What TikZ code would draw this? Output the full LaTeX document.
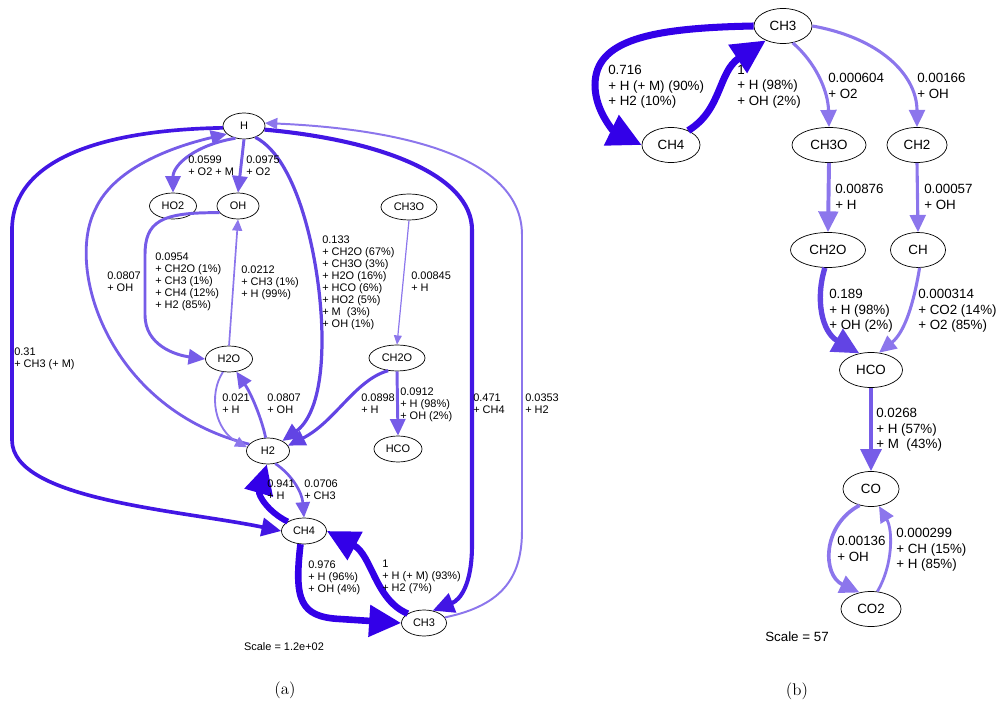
\documentclass[tikz,border=0pt]{standalone}
\usepackage{fontspec}
\newfontfamily\gvfont{Liberation Sans}
\usetikzlibrary{arrows.meta,shapes.geometric}

\definecolor{fluxA}{RGB}{51,0,232}
\definecolor{fluxB}{RGB}{66,22,228}
\definecolor{fluxC}{RGB}{98,68,228}
\definecolor{fluxD}{RGB}{118,92,232}
\definecolor{fluxE}{RGB}{140,118,236}

\begin{document}
\begin{tikzpicture}[x=0.025cm,y=-0.025cm,
        >={Triangle[length=3pt 4.2,width=2pt 4.2]},
        spa/.style={draw,ellipse,line width=0.5pt,inner sep=0pt,
              minimum height=0.65cm,font=\gvfont\fontsize{7.8}{9}\selectfont},
        spb/.style={draw,ellipse,line width=0.5pt,inner sep=0pt,
              minimum height=0.875cm,font=\gvfont\fontsize{9.5}{11}\selectfont},
        lba/.style={anchor=north west,inner sep=0pt,align=left,
              font=\gvfont\fontsize{7.8}{8.5}\selectfont},
        lbb/.style={anchor=north west,inner sep=0pt,align=left,
              font=\gvfont\fontsize{9.5}{11}\selectfont},
        flux/.style 2 args={->,draw=#1,line width=#2}]
        \useasboundingbox (0,0) rectangle (1004,707);

        \node[spa,minimum width=1.05cm] (aH) at (244,126) {H};
        \node[spa,minimum width=1.175cm] (aHO2) at (173,206) {HO2};
        \node[spa,minimum width=1.05cm] (aOH) at (238,206) {OH};
        \node[spa,minimum width=1.4cm] (aCH3O) at (409,207) {CH3O};
        \node[spa,minimum width=1.175cm] (aH2O) at (229,359) {H2O};
        \node[spa,minimum width=1.4cm] (aCH2O) at (397,358) {CH2O};
        \node[spa,minimum width=1.075cm] (aH2) at (268,451) {H2};
        \node[spa,minimum width=1.2cm] (aHCO) at (398,449) {HCO};
        \node[spa,minimum width=1.125cm] (aCH4) at (304,531) {CH4};
        \node[spa,minimum width=1.125cm] (aCH3) at (424,623) {CH3};

        \draw[flux={fluxD}{2.1pt}] (aH.235) .. controls (195,145) and (173,165)
              .. (aHO2.north);
        \draw[flux={fluxD}{2.1pt}] (aH.south) -- (aOH.north);
        \draw[flux={fluxE}{1.2pt}] (aH2O.north) -- (aOH.south);
        \draw[flux={fluxD}{2.1pt}] (aOH.200) .. controls (160,212) and (145,222)
              .. (145,255) -- (145,315) .. controls (145,345) and (175,355)
              .. (aH2O.west);
        \draw[flux={fluxD}{2pt}] (aH2.160) .. controls (110,410) and (65,270)
              .. (95,210) .. controls (115,165) and (180,145) .. (aH.205);
        \draw[flux={fluxB}{2.6pt}] (aH.185) .. controls (100,130) and (12,160)
              .. (12,230) -- (12,440) .. controls (12,500) and (180,510)
              .. (aCH4.west);
        \draw[flux={fluxC}{2.3pt}] (aH.315) .. controls (300,160) and (322,270)
              .. (322,340) .. controls (322,405) and (305,425) .. (aH2.35);
        \draw[flux={fluxB}{2.9pt}] (aH.350) .. controls (380,140) and (472,175)
              .. (472,230) -- (472,545) .. controls (472,585) and (460,600)
              .. (aCH3.55);
        \draw[flux={fluxE}{1.4pt}] (aCH3.15) .. controls (505,605) and (522,575)
              .. (522,530) -- (522,235) .. controls (522,150) and (380,128)
              .. (aH.8);
        \draw[flux={fluxE}{0.85pt}] (aCH3O.south) -- (aCH2O.north);
        \draw[flux={fluxC}{2.2pt}] (aCH2O.235) .. controls (355,380) and (335,422)
              .. (aH2.15);
        \draw[flux={fluxD}{2.1pt}] (aCH2O.south) -- (aHCO.north);
        \draw[flux={fluxD}{2pt}] (aH2.100) .. controls (262,420) and (252,395)
              .. (aH2O.300);
        \draw[flux={fluxE}{1.3pt}] (aH2O.245) .. controls (208,395) and (215,430)
              .. (aH2.170);
        \draw[flux={fluxA}{4.3pt}] (aCH4.150) .. controls (268,512) and (258,495)
              .. (aH2.265);
        \draw[flux={fluxD}{1.9pt}] (aH2.300) .. controls (292,475) and (302,492)
              .. (aCH4.north);
        \draw[flux={fluxA}{4.7pt}] (aCH4.255) .. controls (294,600) and (300,617)
              .. (340,619) -- (aCH3.west);
        \draw[flux={fluxA}{4.7pt}] (aCH3.150) .. controls (375,600) and (372,555)
              .. (aCH4.east);

        \node[lba] (la1) at (188,156) {0.0599\\+ O2 + M};
        \node[lba] (la2) at (246,156) {0.0975\\+ O2};
        \node[lba] (la3) at (107,272) {0.0807\\+ OH};
        \node[lba] (la4) at (155,253) {0.0954\\+ CH2O (1\%)\\+ CH3 (1\%)\\
              + CH4 (12\%)\\+ H2 (85\%)};
        \node[lba] (la5) at (241,266) {0.0212\\+ CH3 (1\%)\\+ H (99\%)};
        \node[lba] (la6) at (322,236) {0.133\\+ CH2O (67\%)\\+ CH3O (3\%)\\
              + H2O (16\%)\\+ HCO (6\%)\\+ HO2 (5\%)\\+ M\ \ (3\%)\\+ OH (1\%)};
        \node[lba] (la7) at (411,272) {0.00845\\+ H};
        \node[lba] (la8) at (14,348) {0.31\\+ CH3 (+ M)};
        \node[lba] (la9) at (222,394) {0.021\\+ H};
        \node[lba] (la10) at (267,394) {0.0807\\+ OH};
        \node[lba] (la11) at (267,480) {0.941\\+ H};
        \node[lba] (la12) at (304,480) {0.0706\\+ CH3};
        \node[lba] (la13) at (361,394) {0.0898\\+ H};
        \node[lba] (la14) at (400,388) {0.0912\\+ H (98\%)\\+ OH (2\%)};
        \node[lba] (la15) at (473,394) {0.471\\+ CH4};
        \node[lba] (la16) at (525,394) {0.0353\\+ H2};
        \node[lba] (la17) at (308,561) {0.976\\+ H (96\%)\\+ OH (4\%)};
        \node[lba] (la18) at (382,560) {1\\+ H (+ M) (93\%)\\+ H2 (7\%)};
        \node[font=\gvfont\fontsize{7.8}{9}\selectfont] (scaleA) at (284,647)
              {Scale = 1.2e+02};

        \node[spb,minimum width=1.45cm] (bCH3) at (783,26) {CH3};
        \node[spb,minimum width=1.45cm] (bCH4) at (671,145) {CH4};
        \node[spb,minimum width=1.85cm] (bCH3O) at (829,145) {CH3O};
        \node[spb,minimum width=1.5cm] (bCH2) at (917,145) {CH2};
        \node[spb,minimum width=1.875cm] (bCH2O) at (828,250) {CH2O};
        \node[spb,minimum width=1.375cm] (bCH) at (918,250) {CH};
        \node[spb,minimum width=1.575cm] (bHCO) at (871,370) {HCO};
        \node[spb,minimum width=1.4cm] (bCO) at (871,489) {CO};
        \node[spb,minimum width=1.5cm] (bCO2) at (871,609) {CO2};

        \draw[flux={fluxA}{5pt}] (bCH3.west) .. controls (650,28) and (595,40)
              .. (595,85) .. controls (595,112) and (615,132) .. (bCH4.west);
        \draw[flux={fluxA}{5pt}] (bCH4.40) .. controls (722,110) and (718,72)
              .. (bCH3.220);
        \draw[flux={fluxE}{2.2pt}] (bCH3.300) .. controls (815,62) and (828,90)
              .. (bCH3O.north);
        \draw[flux={fluxE}{2.2pt}] (bCH3.east) .. controls (880,38) and (917,75)
              .. (bCH2.north);
        \draw[flux={fluxE}{2.8pt}] (bCH3O.south) -- (bCH2O.north);
        \draw[flux={fluxE}{2.2pt}] (bCH2.south) -- (bCH.north);
        \draw[flux={fluxC}{3.8pt}] (bCH2O.260) .. controls (815,300) and (822,332)
              .. (bHCO.125);
        \draw[flux={fluxE}{2.2pt}] (bCH.275) .. controls (914,302) and (905,332)
              .. (bHCO.65);
        \draw[flux={fluxD}{3pt}] (bHCO.south) -- (bCO.north);
        \draw[flux={fluxE}{2.6pt}] (bCO.235) .. controls (822,525) and (822,575)
              .. (bCO2.125);
        \draw[flux={fluxE}{2pt}] (bCO2.70) .. controls (893,565) and (893,530)
              .. (bCO.295);

        \node[lbb] (lb1) at (608,65) {0.716\\+ H (+ M) (90\%)\\+ H2 (10\%)};
        \node[lbb] (lb2) at (737,65) {1\\+ H (98\%)\\+ OH (2\%)};
        \node[lbb] (lb3) at (828,73) {0.000604\\+ O2};
        \node[lbb] (lb4) at (917,73) {0.00166\\+ OH};
        \node[lbb] (lb5) at (835,184) {0.00876\\+ H};
        \node[lbb] (lb6) at (924,184) {0.00057\\+ OH};
        \node[lbb] (lb7) at (829,289) {0.189\\+ H (98\%)\\+ OH (2\%)};
        \node[lbb] (lb8) at (918,289) {0.000314\\+ CO2 (14\%)\\+ O2 (85\%)};
        \node[lbb] (lb9) at (876,408) {0.0268\\+ H (57\%)\\+ M\ \ (43\%)};
        \node[lbb] (lb10) at (837,536) {0.00136\\+ OH};
        \node[lbb] (lb11) at (896,528) {0.000299\\+ CH (15\%)\\+ H (85\%)};
        \node[font=\gvfont\fontsize{9.5}{11}\selectfont] (scaleB) at (797,637)
              {Scale = 57};

        \node[font=\large] (capA) at (285,690) {(a)};
        \node[font=\large] (capB) at (797,691) {(b)};
    \end{tikzpicture}
\end{document}
